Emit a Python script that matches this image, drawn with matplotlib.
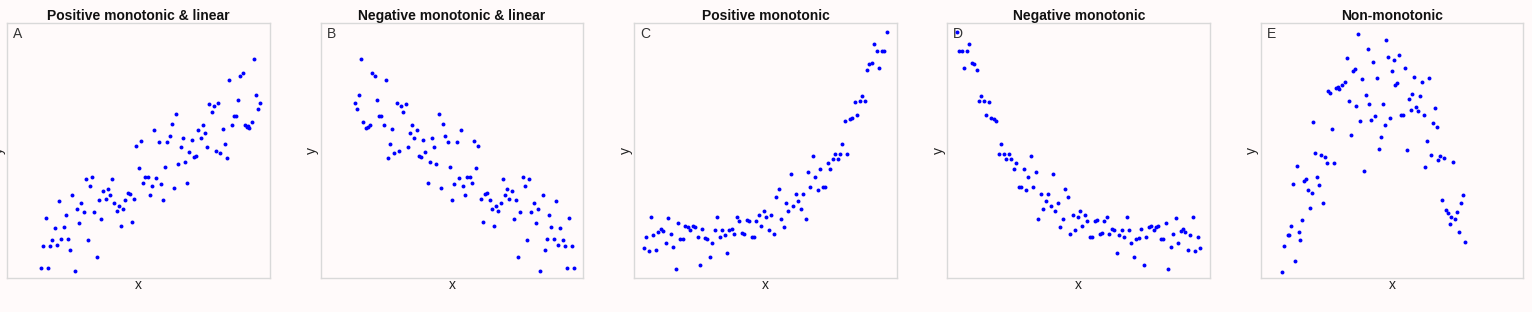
import matplotlib
matplotlib.use('Agg')
import matplotlib.pyplot as plt

plt.rcParams['font.family'] = ['Liberation Sans', 'DejaVu Sans']

BG = '#fffafa'
DOT = '#0000ff'
SPINE = '#d9d9d9'

TITLES = ['Positive monotonic & linear', 'Negative monotonic & linear',
          'Positive monotonic', 'Negative monotonic', 'Non-monotonic']
LETTERS = ['A', 'B', 'C', 'D', 'E']

# values (arbitrary units, x 0..788, y 0..763)
a_x = [102, 122, 202, 108, 128, 135, 149, 162, 182, 188, 115, 142, 169, 175, 155, 195,
       208, 215, 222, 229, 235, 241, 248, 255, 261, 268, 275, 281, 288, 295, 301, 308,
       315, 321, 328, 334, 341, 348, 354, 361, 368, 374, 381, 387, 394, 401, 408, 414,
       421, 427, 434, 440, 447, 454, 461, 467, 474, 480, 487, 493, 500, 507, 513, 520,
       526, 533, 540, 546, 553, 560, 566, 573, 580, 586, 593, 600, 606, 613, 620, 626,
       633, 639, 646, 653, 659, 666, 673, 680, 686, 692, 699, 706, 713, 719, 723, 726,
       733, 739, 746, 752, 759]
a_y = [29, 30, 21, 94, 94, 112, 99, 115, 115, 84, 179, 149, 152, 188, 231, 249,
       207, 164, 225, 196, 295, 114, 276, 302, 196, 62, 233, 176, 260, 236, 266, 248,
       296, 223, 199, 214, 156, 207, 232, 254, 251, 167, 235, 395, 328, 410, 285, 301,
       301, 249, 274, 443, 298, 408, 281, 234, 333, 408, 425, 460, 268, 490, 340, 393,
       418, 347, 285, 376, 413, 363, 366, 442, 420, 457, 434, 391, 522, 496, 516, 381,
       523, 375, 446, 402, 360, 594, 458, 485, 484, 532, 605, 615, 457, 452, 454, 449,
       468, 655, 549, 505, 525]

b_x = [102, 109, 115, 122, 128, 135, 141, 148, 155, 162, 169, 175, 182, 189, 195, 202,
       208, 215, 221, 228, 235, 241, 248, 255, 261, 268, 275, 281, 288, 294, 301, 308,
       314, 321, 328, 334, 341, 347, 354, 361, 368, 374, 381, 388, 394, 401, 408, 414,
       421, 427, 434, 440, 447, 453, 460, 467, 473, 480, 486, 493, 500, 507, 513, 520,
       526, 533, 540, 546, 553, 560, 566, 573, 580, 586, 593, 599, 606, 613, 619, 626,
       632, 639, 646, 652, 659, 666, 672, 679, 686, 692, 699, 705, 712, 719, 726, 732,
       739, 746, 753, 759]
b_y = [524, 505, 549, 655, 468, 449, 453, 457, 615, 605, 532, 484, 485, 458, 594, 360,
       402, 446, 375, 523, 381, 516, 496, 522, 391, 434, 457, 420, 442, 366, 363, 413,
       376, 285, 347, 418, 393, 340, 490, 268, 460, 425, 408, 333, 234, 281, 408, 298,
       443, 274, 249, 301, 301, 285, 410, 328, 395, 235, 167, 251, 254, 232, 207, 156,
       214, 199, 223, 296, 248, 266, 236, 260, 176, 233, 62, 196, 302, 276, 114, 296,
       196, 225, 164, 207, 21, 249, 84, 115, 188, 152, 115, 231, 99, 149, 112, 94,
       30, 179, 94, 29]

c_x = [29, 36, 44, 51, 58, 66, 73, 80, 88, 95, 103, 110, 117, 125, 132, 139,
       146, 154, 161, 168, 176, 183, 191, 198, 205, 213, 220, 227, 235, 242, 250, 257,
       264, 272, 279, 286, 293, 301, 308, 316, 323, 330, 338, 345, 353, 360, 367, 375,
       382, 389, 397, 404, 412, 419, 426, 434, 441, 449, 456, 463, 471, 478, 485, 493,
       500, 507, 515, 522, 529, 537, 544, 552, 559, 566, 574, 581, 588, 596, 603, 611,
       618, 625, 633, 640, 648, 655, 662, 670, 677, 684, 692, 699, 706, 714, 721, 729,
       736, 744, 751, 758]
c_y = [90, 123, 81, 181, 129, 82, 136, 146, 140, 104, 178, 132, 91, 27, 163, 116,
       117, 156, 151, 142, 156, 151, 123, 39, 147, 120, 117, 63, 104, 143, 181, 123,
       144, 127, 74, 143, 145, 132, 181, 170, 133, 132, 173, 170, 121, 122, 169, 188,
       155, 199, 182, 144, 188, 132, 241, 267, 176, 153, 224, 201, 311, 215, 251, 231,
       206, 251, 177, 318, 272, 364, 303, 264, 327, 273, 271, 345, 325, 356, 370, 355,
       370, 401, 469, 372, 475, 479, 526, 487, 531, 546, 531, 622, 641, 643, 701, 681,
       629, 681, 679, 736]

d_x = [29, 36, 44, 51, 58, 66, 73, 80, 88, 95, 102, 110, 117, 124, 132, 139,
       147, 155, 162, 169, 177, 184, 191, 199, 206, 214, 221, 229, 236, 243, 251, 258,
       265, 273, 280, 287, 295, 302, 310, 317, 324, 332, 339, 347, 354, 361, 369, 376,
       383, 391, 398, 405, 413, 420, 427, 435, 442, 449, 457, 464, 471, 479, 486, 493,
       501, 508, 515, 523, 530, 538, 545, 552, 560, 567, 575, 582, 589, 597, 604, 611,
       619, 626, 633, 641, 648, 656, 663, 670, 678, 685, 692, 700, 707, 714, 722, 729,
       736, 744, 751, 759]
d_y = [736, 679, 681, 629, 681, 701, 643, 641, 622, 531, 546, 531, 487, 526, 479, 475,
       469, 372, 401, 370, 355, 370, 356, 325, 345, 271, 273, 327, 264, 303, 364, 272,
       318, 177, 251, 206, 231, 251, 215, 311, 201, 224, 153, 176, 267, 241, 132, 188,
       144, 182, 199, 155, 188, 169, 122, 121, 170, 173, 132, 133, 170, 181, 132, 145,
       143, 74, 127, 144, 123, 181, 143, 104, 63, 117, 120, 147, 39, 123, 151, 156,
       142, 151, 156, 117, 116, 163, 27, 91, 132, 178, 104, 140, 146, 136, 82, 129,
       181, 81, 123, 90]

e_x = [63, 69, 81, 85, 91, 97, 102, 108, 114, 119, 125, 131, 136, 142, 148, 153,
       158, 164, 170, 175, 181, 187, 192, 198, 203, 208, 214, 220, 226, 231, 236, 243,
       254, 259, 265, 270, 276, 282, 287, 293, 298, 304, 310, 316, 321, 326, 332, 338,
       343, 349, 355, 360, 366, 372, 377, 382, 388, 394, 399, 404, 410, 416, 421, 427,
       433, 438, 444, 450, 455, 461, 466, 472, 478, 483, 489, 494, 500, 506, 511, 517,
       522, 528, 533, 539, 545, 550, 556, 561, 567, 572, 578, 584, 590, 595, 601, 606,
       612]
e_y = [16, 94, 127, 129, 154, 282, 51, 334, 136, 113, 173, 291, 295, 262, 208, 255,
       468, 373, 303, 277, 369, 225, 362, 345, 559, 553, 447, 343, 570, 573, 567, 577,
       588, 658, 531, 428, 621, 625, 514, 732, 470, 595, 321, 547, 687, 520, 474, 648,
       486, 600, 387, 421, 522, 459, 712, 662, 479, 620, 653, 579, 584, 669, 487, 488,
       629, 384, 535, 504, 550, 602, 513, 500, 546, 587, 488, 332, 410, 600, 367, 465,
       510, 451, 353, 365, 233, 360, 204, 193, 162, 183, 348, 177, 196, 136, 225, 248,
       108]

SERIES = [(a_x, a_y), (b_x, b_y), (c_x, c_y), (d_x, d_y), (e_x, e_y)]

fig, axes = plt.subplots(1, 5, figsize=(15.32, 3.12), dpi=100)
fig.patch.set_facecolor(BG)
fig.subplots_adjust(left=0.0048, right=0.9944, bottom=0.110, top=0.925, wspace=0.193)

for ax, (xs, ys), title, letter in zip(axes, SERIES, TITLES, LETTERS):
    ax.set_facecolor(BG)
    ax.scatter(xs, ys, s=8, color=DOT, linewidths=0, zorder=3)
    ax.set_xlim(0, 788)
    ax.set_ylim(0, 763)
    ax.set_xticks([])
    ax.set_yticks([])
    for sp in ax.spines.values():
        sp.set_color(SPINE)
        sp.set_linewidth(1.0)
    ax.set_title(title, fontsize=10, fontweight='bold', color='#111111', pad=1.5)
    ax.set_xlabel('x', fontsize=10, color='#222222', labelpad=0)
    ax.set_ylabel('y', fontsize=10, color='#222222', labelpad=1)
    ax.text(0.022, 0.985, letter, transform=ax.transAxes, ha='left', va='top',
            fontsize=10, color='#333333', zorder=2)

fig.savefig('out.png', dpi=100, facecolor=BG)
